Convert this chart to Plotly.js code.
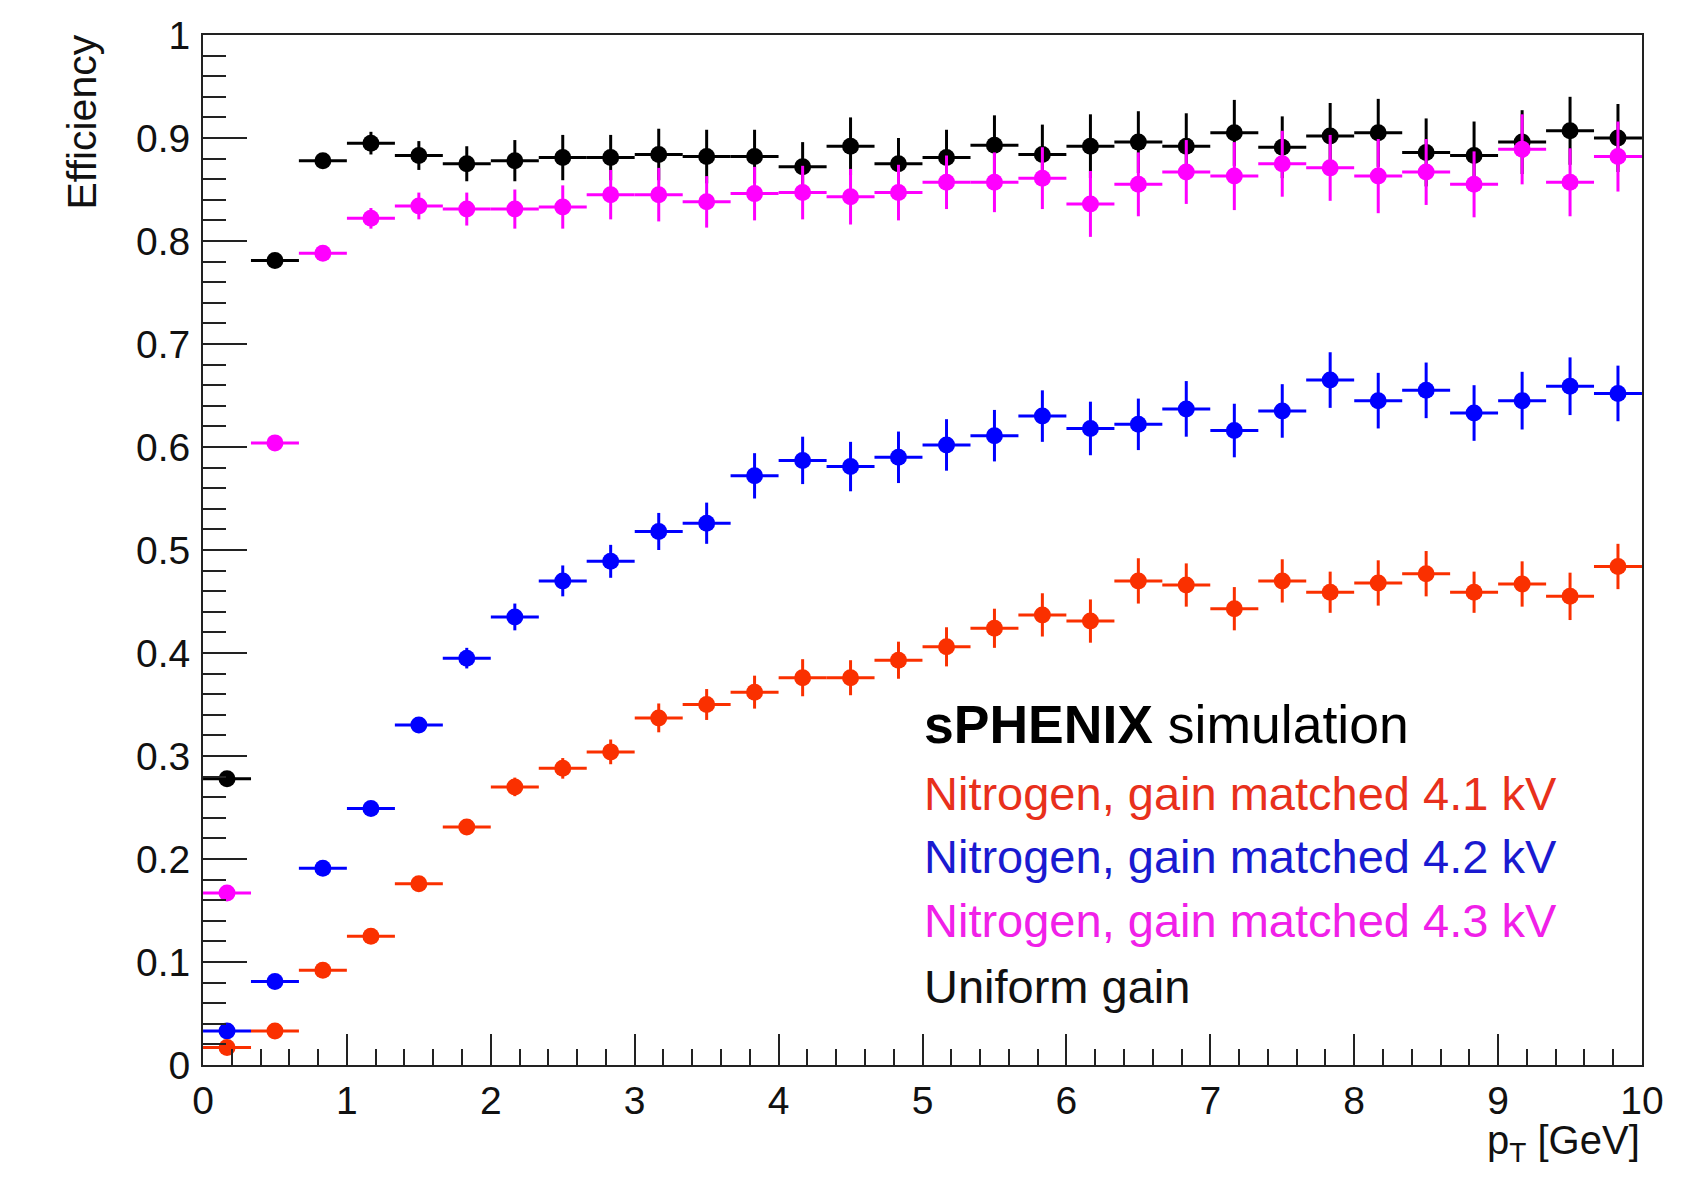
<!DOCTYPE html>
<html>
<head>
<meta charset="utf-8">
<script src="https://cdn.plot.ly/plotly-3.0.1.min.js"></script>
<style>
  html, body { margin: 0; padding: 0; background: #ffffff; }
  #chart { width: 1691px; height: 1181px; }
</style>
</head>
<body>
<div id="chart"></div>
<script>
// ---- data ----
const pT = [0.167, 0.5, 0.833, 1.167, 1.5, 1.833, 2.167, 2.5, 2.833, 3.167,
            3.5, 3.833, 4.167, 4.5, 4.833, 5.167, 5.5, 5.833, 6.167, 6.5,
            6.833, 7.167, 7.5, 7.833, 8.167, 8.5, 8.833, 9.167, 9.5, 9.833];
const binHalfWidth = 0.1667;

const effN2_41kV = [0.017, 0.033, 0.092, 0.125, 0.176, 0.231, 0.270, 0.288, 0.304, 0.337,
                    0.350, 0.362, 0.376, 0.376, 0.393, 0.406, 0.424, 0.437, 0.431, 0.470,
                    0.466, 0.443, 0.470, 0.459, 0.468, 0.477, 0.459, 0.467, 0.455, 0.484];
const errN2_41kV = [0.002, 0.003, 0.004, 0.005, 0.006, 0.007, 0.009, 0.010, 0.012, 0.014,
                    0.015, 0.016, 0.018, 0.017, 0.018, 0.019, 0.019, 0.021, 0.021, 0.022,
                    0.021, 0.021, 0.021, 0.020, 0.022, 0.022, 0.020, 0.022, 0.023, 0.022];

const effN2_42kV = [0.033, 0.081, 0.191, 0.249, 0.330, 0.395, 0.435, 0.470, 0.489, 0.518,
                    0.526, 0.572, 0.587, 0.581, 0.590, 0.602, 0.611, 0.630, 0.618, 0.622,
                    0.637, 0.616, 0.635, 0.665, 0.645, 0.655, 0.633, 0.645, 0.659, 0.652];
const errN2_42kV = [0.003, 0.004, 0.005, 0.006, 0.007, 0.010, 0.013, 0.015, 0.016, 0.018,
                    0.020, 0.022, 0.023, 0.024, 0.025, 0.025, 0.025, 0.025, 0.026, 0.025,
                    0.027, 0.026, 0.026, 0.027, 0.027, 0.027, 0.027, 0.028, 0.028, 0.027];

const effN2_43kV = [0.167, 0.604, 0.788, 0.822, 0.834, 0.831, 0.831, 0.833, 0.845, 0.845,
                    0.838, 0.846, 0.847, 0.843, 0.847, 0.857, 0.857, 0.861, 0.836, 0.855,
                    0.867, 0.863, 0.875, 0.871, 0.863, 0.867, 0.855, 0.889, 0.857, 0.882];
const errN2_43kV = [0.003, 0.005, 0.007, 0.010, 0.013, 0.016, 0.019, 0.021, 0.024, 0.026,
                    0.025, 0.026, 0.026, 0.027, 0.027, 0.026, 0.029, 0.030, 0.032, 0.031,
                    0.031, 0.033, 0.032, 0.032, 0.036, 0.032, 0.032, 0.034, 0.033, 0.034];

const effUniform = [0.278, 0.781, 0.878, 0.895, 0.883, 0.875, 0.878, 0.881, 0.881, 0.884,
                    0.882, 0.882, 0.872, 0.892, 0.875, 0.881, 0.893, 0.884, 0.892, 0.896,
                    0.892, 0.905, 0.891, 0.902, 0.905, 0.886, 0.883, 0.896, 0.907, 0.900];
const errUniform = [0.003, 0.005, 0.006, 0.011, 0.014, 0.017, 0.020, 0.022, 0.022, 0.025,
                    0.026, 0.026, 0.024, 0.028, 0.025, 0.027, 0.029, 0.029, 0.031, 0.030,
                    0.032, 0.032, 0.030, 0.032, 0.033, 0.033, 0.033, 0.031, 0.033, 0.033];

const seriesNames = ["Nitrogen, gain matched 4.1 kV", "Nitrogen, gain matched 4.2 kV",
                     "Nitrogen, gain matched 4.3 kV", "Uniform gain"];
const xTitle = "p<sub>T</sub> [GeV]";
const yTitle = "Efficiency";
const labelText = "<b>sPHENIX</b> simulation";

// ---- styling ----
const FONT = "Liberation Sans, Arial, Helvetica, sans-serif";
const colRed = "#fa3000", colBlue = "#0000ff", colMag = "#ff00ff", colBlack = "#000000";

function mk(y, err, color, name) {
  return {
    type: "scatter", mode: "markers", name: name,
    x: pT, y: y,
    marker: { symbol: "circle", size: 17, color: color },
    error_y: { type: "data", array: err, visible: true, color: color, thickness: 3, width: 0 },
    error_x: { type: "constant", value: binHalfWidth, visible: true, color: color, thickness: 3, width: 0 },
    hoverinfo: "x+y"
  };
}

const traces = [
  mk(effUniform, errUniform, colBlack, seriesNames[3]),
  mk(effN2_43kV, errN2_43kV, colMag, seriesNames[2]),
  mk(effN2_42kV, errN2_42kV, colBlue, seriesNames[1]),
  mk(effN2_41kV, errN2_41kV, colRed, seriesNames[0])
];

const W = 1691, H = 1181;
const mL = 203, mR = 49, mT = 35, mB = 116;
const pw = W - mL - mR, ph = H - mT - mB;
const px = (x) => (x - mL) / pw;
const py = (y) => (H - mB - y) / ph;

const axisCommon = {
  showgrid: false, zeroline: false, showline: true, mirror: true,
  linecolor: "#222", linewidth: 2,
  ticks: "inside", tickcolor: "#222", tickwidth: 2,
  tickfont: { family: FONT, size: 39, color: "#111" },
  fixedrange: true
};

const layout = {
  width: W, height: H,
  margin: { l: mL, r: mR, t: mT, b: mB, pad: 0 },
  paper_bgcolor: "#ffffff", plot_bgcolor: "#ffffff",
  showlegend: false,
  font: { family: FONT, color: "#111" },
  xaxis: Object.assign({}, axisCommon, {
    range: [0, 10], tick0: 0, dtick: 1, ticklen: 31,
    minor: { dtick: 0.2, ticks: "inside", ticklen: 16, tickwidth: 2, tickcolor: "#222" }
  }),
  yaxis: Object.assign({}, axisCommon, {
    range: [0, 1], tick0: 0, dtick: 0.1, ticklen: 44, ticklabelstandoff: 3,
    minor: { dtick: 0.02, ticks: "inside", ticklen: 23, tickwidth: 2, tickcolor: "#222" }
  }),
  annotations: [
    { text: yTitle, xref: "paper", yref: "paper", x: px(82), y: py(33),
      xanchor: "center", yanchor: "top", textangle: -90, showarrow: false,
      font: { family: FONT, size: 41, color: "#111" } },
    { text: xTitle, xref: "paper", yref: "paper", x: 1.0, y: py(1143),
      xanchor: "right", yanchor: "middle", showarrow: false,
      font: { family: FONT, size: 40, color: "#111" } },
    { text: labelText, xref: "paper", yref: "paper", x: px(922), y: py(725),
      xanchor: "left", yanchor: "middle", showarrow: false,
      font: { family: FONT, size: 53.5, color: "#000" } },
    { text: seriesNames[0], xref: "paper", yref: "paper", x: px(922), y: py(793),
      xanchor: "left", yanchor: "middle", showarrow: false,
      font: { family: FONT, size: 47, color: "#e8301c" } },
    { text: seriesNames[1], xref: "paper", yref: "paper", x: px(922), y: py(856),
      xanchor: "left", yanchor: "middle", showarrow: false,
      font: { family: FONT, size: 47, color: "#1a1ad0" } },
    { text: seriesNames[2], xref: "paper", yref: "paper", x: px(922), y: py(920),
      xanchor: "left", yanchor: "middle", showarrow: false,
      font: { family: FONT, size: 47, color: "#f020e8" } },
    { text: seriesNames[3], xref: "paper", yref: "paper", x: px(922), y: py(986),
      xanchor: "left", yanchor: "middle", showarrow: false,
      font: { family: FONT, size: 47, color: "#111" } }
  ]
};

Plotly.newPlot("chart", traces, layout, { displayModeBar: false, staticPlot: true });
</script>
</body>
</html>
